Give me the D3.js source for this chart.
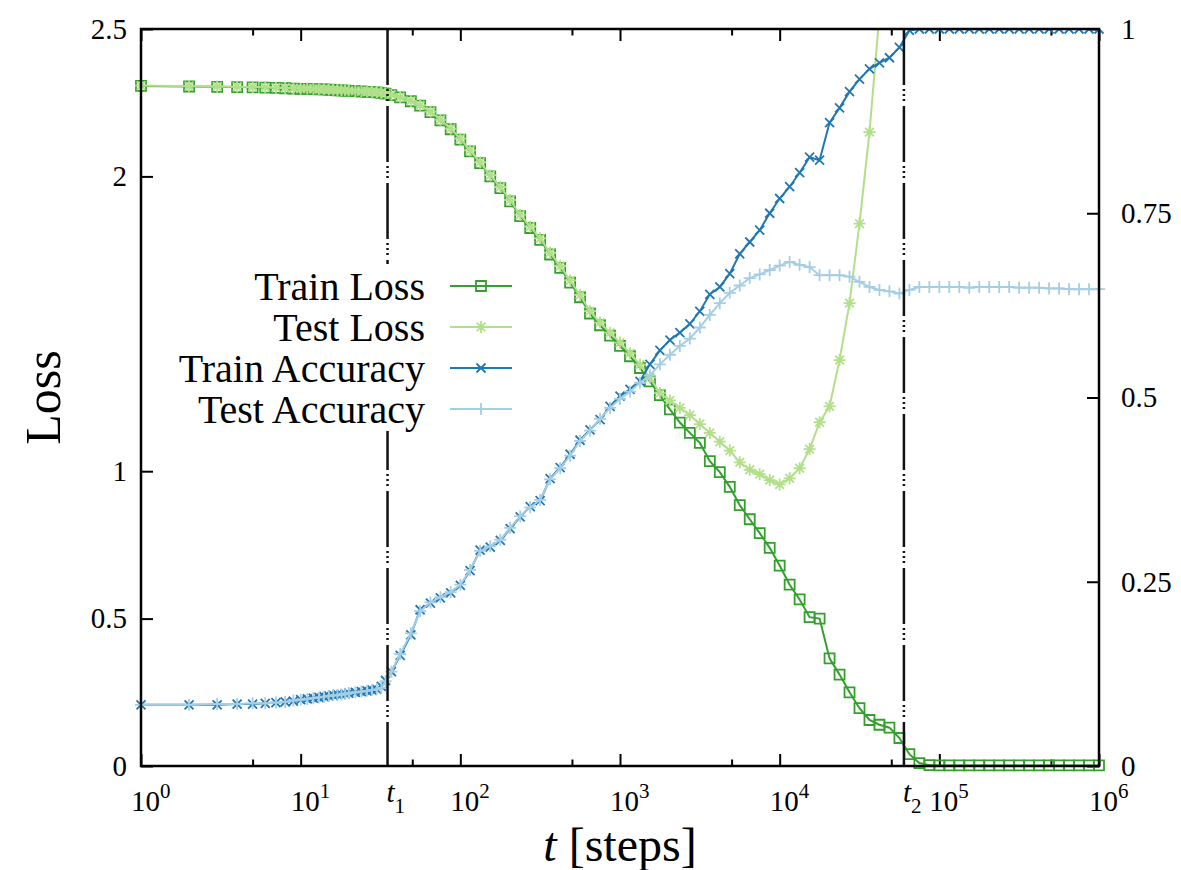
<!DOCTYPE html>
<html lang="en">
<head>
<meta charset="UTF-8">
<script src="https://d3js.org/d3.v7.min.js"></script>
<title>Loss and accuracy vs training steps</title>
<style>
  body { margin: 0; background: #fff; }
  svg { font-family: "Liberation Serif", "Times New Roman", serif; }
</style>
</head>
<body>
<div id="chart"></div>
<script>
// training steps shared by all four curves
const steps = [1,2,3,4,5,6,7,8,9,10,11,12,13,14,15,16,17,18,19,20,22,24,26,28,30,32,34,
  37,42,49,56,65,75,87,100,
  115,133,154,178,205,237,274,316,365,422,487,562,649,750,866,1000,
  1155,1334,1540,1778,2054,2371,2738,3162,3652,4217,4870,5623,6494,7499,8660,10000,
  11548,13335,15399,17783,20535,23714,27384,31623,36517,42170,48697,56234,64938,74989,86596,100000,
  115478,133352,153993,177828,205353,237137,273842,316228,365174,421697,486968,562341,649382,749894,865964,1000000];

const trainLoss = [2.307,2.305,2.304,2.303,2.302,2.301,2.300,2.299,2.298,2.297,2.297,2.296,2.295,2.295,2.294,2.293,2.292,2.292,2.291,2.290,
  2.289,2.288,2.287,2.286,2.285,2.283,2.281,
  2.276,2.268,2.255,2.240,2.218,2.190,2.160,2.125,
  2.085,2.045,2.000,1.960,1.915,1.865,1.825,1.785,1.735,1.690,1.640,1.590,1.535,1.495,1.460,1.425,
  1.390,1.350,1.305,1.258,1.210,1.165,1.130,1.096,1.034,0.997,0.947,0.885,0.837,0.790,0.740,0.680,
  0.615,0.565,0.505,0.500,0.365,0.310,0.250,0.196,0.156,0.140,0.130,0.095,0.040,0.010,0.003,0.002,
  0.002,0.002,0.002,0.002,0.002,0.002,0.002,0.002,0.002,0.002,0.002,0.002,0.002,0.002,0.002,0.002];

const testLoss = [2.308,2.306,2.305,2.304,2.303,2.302,2.301,2.300,2.299,2.298,2.298,2.297,2.296,2.296,2.295,2.294,2.293,2.293,2.292,2.291,
  2.290,2.289,2.288,2.287,2.286,2.284,2.282,
  2.277,2.269,2.256,2.241,2.220,2.192,2.162,2.128,
  2.088,2.048,2.004,1.964,1.920,1.870,1.830,1.790,1.741,1.696,1.647,1.598,1.543,1.504,1.470,1.436,
  1.400,1.362,1.318,1.265,1.240,1.215,1.190,1.160,1.130,1.100,1.070,1.030,1.005,0.990,0.970,0.955,
  0.976,1.010,1.075,1.166,1.220,1.377,1.570,1.840,2.150,2.550,2.900,null,null,null,null,null,
  null,null,null,null,null,null,null,null,null,null,null,null,null,null,null,null];

const trainAcc = [0.083,0.083,0.083,0.084,0.084,0.085,0.086,0.087,0.088,0.090,0.091,0.092,0.093,0.094,0.095,0.096,0.097,0.097,0.098,0.099,
  0.100,0.101,0.102,0.103,0.104,0.108,0.116,
  0.128,0.150,0.178,0.212,0.221,0.228,0.235,0.245,
  0.265,0.293,0.297,0.306,0.322,0.338,0.352,0.360,0.390,0.405,0.423,0.442,0.456,0.470,0.488,0.502,
  0.511,0.522,0.545,0.564,0.578,0.588,0.600,0.617,0.640,0.650,0.668,0.695,0.711,0.727,0.750,0.770,
  0.786,0.805,0.826,0.822,0.873,0.893,0.915,0.932,0.946,0.954,0.961,0.975,0.998,1.000,1.000,1.000,
  1.000,1.000,1.000,1.000,1.000,1.000,1.000,1.000,1.000,1.000,1.000,1.000,1.000,1.000,1.000,1.000];

const testAcc = [0.083,0.083,0.084,0.084,0.085,0.085,0.086,0.087,0.089,0.090,0.091,0.092,0.093,0.094,0.095,0.096,0.096,0.097,0.098,0.099,
  0.100,0.101,0.102,0.103,0.104,0.106,0.115,
  0.128,0.152,0.180,0.210,0.222,0.229,0.236,0.246,
  0.266,0.292,0.298,0.307,0.323,0.339,0.351,0.361,0.389,0.404,0.421,0.441,0.455,0.471,0.486,0.498,
  0.508,0.520,0.530,0.545,0.558,0.570,0.580,0.595,0.612,0.628,0.642,0.652,0.662,0.667,0.673,0.679,
  0.684,0.680,0.677,0.666,0.666,0.666,0.664,0.657,0.650,0.646,0.644,0.641,0.646,0.650,0.650,0.650,
  0.650,0.650,0.649,0.650,0.650,0.650,0.650,0.649,0.649,0.649,0.648,0.648,0.647,0.647,0.647,0.647];

const lossTicks = [0, 0.5, 1, 2, 2.5];
const accTicks = [0, 0.25, 0.5, 0.75, 1];
const majorSteps = [1, 10, 100, 1000, 10000, 100000, 1000000];
const majorExp = ["0", "1", "2", "3", "4", "5", "6"];
const minorSteps = [5, 50, 500, 5000, 50000, 500000];
const phaseSteps = [35, 60000];
const phaseSubs = ["1", "2"];

const series = [
  { name: "Train Loss", values: trainLoss, axis: "loss", color: "#33a02c", marker: "square" },
  { name: "Test Loss", values: testLoss, axis: "loss", color: "#b2df8a", marker: "star" },
  { name: "Train Accuracy", values: trainAcc, axis: "acc", color: "#1f78b4", marker: "cross" },
  { name: "Test Accuracy", values: testAcc, axis: "acc", color: "#a6cee3", marker: "plus" }
];

const markerPath = {
  square: "M-5,-5H5V5H-5Z",
  star: "M-6,0H6M0,-6V6M-4.3,-4.3L4.3,4.3M-4.3,4.3L4.3,-4.3",
  cross: "M-4.5,-4.5L4.5,4.5M-4.5,4.5L4.5,-4.5",
  plus: "M-6,0H6M0,-6V6"
};

const W = 1181, H = 870;
const plotL = 141, plotR = 1099, plotT = 29, plotB = 766;

const svg = d3.select("#chart").append("svg")
  .attr("width", W).attr("height", H);

const x = d3.scaleLog().domain([1, 1e6]).range([plotL, plotR]);
const yLoss = d3.scaleLinear().domain([0, 2.5]).range([plotB, plotT]);
const yAcc = d3.scaleLinear().domain([0, 1]).range([plotB, plotT]);

svg.append("clipPath").attr("id", "plot-clip")
  .append("rect").attr("x", plotL - 8).attr("y", plotT).attr("width", plotR - plotL + 16).attr("height", plotB - plotT + 8);

// ticks (all pointing inward, as gnuplot does)
function tickGroup(axis, tx, ty) {
  const g = svg.append("g").attr("transform", `translate(${tx},${ty})`).call(axis);
  g.select(".domain").remove();
  g.selectAll(".tick line").attr("stroke", "#000").attr("stroke-width", 2);
  return g;
}
tickGroup(d3.axisBottom(x).tickValues(majorSteps).tickSize(-12).tickFormat(""), 0, plotB);
tickGroup(d3.axisBottom(x).tickValues(minorSteps).tickSize(-6.5).tickFormat(""), 0, plotB);
tickGroup(d3.axisTop(x).tickValues(majorSteps).tickSize(-12).tickFormat(""), 0, plotT);
tickGroup(d3.axisTop(x).tickValues(minorSteps).tickSize(-6.5).tickFormat(""), 0, plotT);

const gl = tickGroup(d3.axisLeft(yLoss).tickValues(lossTicks).tickSize(-12).tickPadding(14).tickFormat(d3.format("")), plotL, 0);
gl.selectAll("text").attr("font-size", 29).attr("fill", "#000").attr("font-family", "Liberation Serif, serif");
const gr = tickGroup(d3.axisRight(yAcc).tickValues(accTicks).tickSize(-12).tickPadding(22).tickFormat(d3.format("")), plotR, 0);
gr.selectAll("text").attr("font-size", 29).attr("fill", "#000").attr("font-family", "Liberation Serif, serif");

// x tick labels 10^n
const xl = svg.append("g").attr("font-size", 29).attr("fill", "#000");
majorSteps.forEach((s, i) => {
  const t = xl.append("text").attr("x", x(s) - 10).attr("y", 811);
  t.append("tspan").text("10");
  t.append("tspan").attr("dy", -13).attr("font-size", 21).text(majorExp[i]);
});
phaseSteps.forEach((s, i) => {
  const t = xl.append("text").attr("x", x(s) - 1).attr("y", 802);
  t.append("tspan").attr("font-style", "italic").text("t");
  t.append("tspan").attr("dy", 11).attr("font-size", 21).text(phaseSubs[i]);
});

// curves
const plot = svg.append("g").attr("clip-path", "url(#plot-clip)");
series.forEach(s => {
  const y = s.axis === "loss" ? yLoss : yAcc;
  const pts = steps.map((t, i) => ({ t, v: s.values[i] })).filter(d => d.v != null);
  plot.append("path").datum(pts)
    .attr("fill", "none").attr("stroke", s.color).attr("stroke-width", 2)
    .attr("d", d3.line().x(d => x(d.t)).y(d => y(d.v)));
  plot.append("g").selectAll("path").data(pts).join("path")
    .attr("transform", d => `translate(${x(d.t)},${y(d.v)})`)
    .attr("d", markerPath[s.marker])
    .attr("fill", "none").attr("stroke", s.color).attr("stroke-width", 1.8);
});

// phase lines t1, t2
svg.append("g").selectAll("line").data(phaseSteps).join("line")
  .attr("x1", d => x(d)).attr("x2", d => x(d))
  .attr("y1", plotT).attr("y2", plotB)
  .attr("stroke", "#111").attr("stroke-width", 2.5)
  .attr("stroke-dasharray", "56,4,2,3,2,3,2,5");

// frame
svg.append("rect").attr("x", plotL).attr("y", plotT)
  .attr("width", plotR - plotL).attr("height", plotB - plotT)
  .attr("fill", "none").attr("stroke", "#000").attr("stroke-width", 2.5);

// legend (opaque box)
const legend = svg.append("g");
legend.append("rect").attr("x", 160).attr("y", 264).attr("width", 360).attr("height", 167).attr("fill", "#fff");
series.forEach((s, i) => {
  const ly = 286 + i * 41;
  legend.append("text").attr("x", 425).attr("y", ly).attr("dy", "0.35em")
    .attr("text-anchor", "end").attr("font-size", 40).attr("fill", "#000").text(s.name);
  legend.append("line").attr("x1", 450).attr("x2", 512).attr("y1", ly).attr("y2", ly)
    .attr("stroke", s.color).attr("stroke-width", 2);
  legend.append("path").attr("transform", `translate(481,${ly})`).attr("d", markerPath[s.marker])
    .attr("fill", "none").attr("stroke", s.color).attr("stroke-width", 1.8);
});

// axis titles
svg.append("text").attr("transform", `translate(60,${(plotT + plotB) / 2}) rotate(-90)`)
  .attr("text-anchor", "middle").attr("font-size", 50).attr("fill", "#000").text("Loss");
const xt = svg.append("text").attr("x", (plotL + plotR) / 2).attr("y", 861)
  .attr("text-anchor", "middle").attr("font-size", 48).attr("fill", "#000");
xt.append("tspan").attr("font-style", "italic").text("t");
xt.append("tspan").text(" [steps]");
</script>
</body>
</html>
